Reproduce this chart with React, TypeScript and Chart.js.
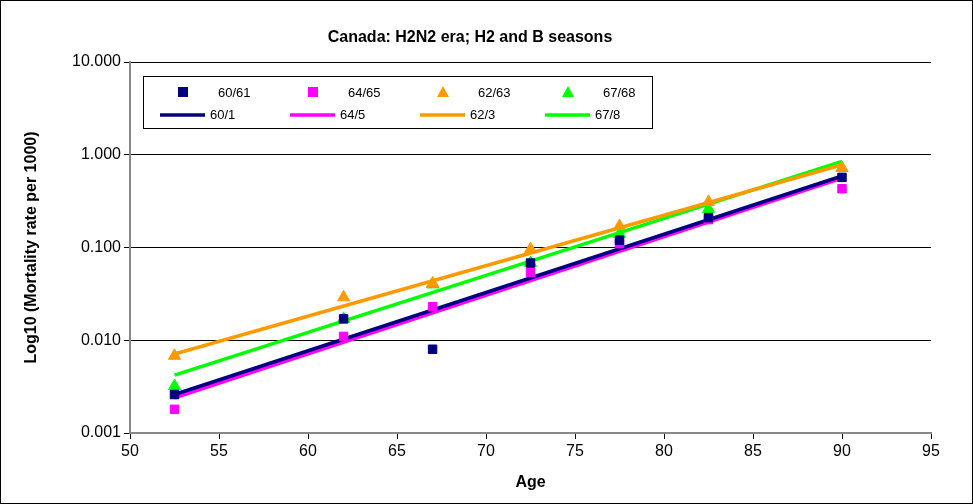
import React, { useEffect, useRef } from "react";
import { Chart, registerables } from "chart.js";
Chart.register(...registerables);

const ages = [52.5, 62, 67, 72.5, 77.5, 82.5, 90];
const s6061 = [0.0026, 0.017, 0.008, 0.068, 0.12, 0.21, 0.57];
const s6465 = [0.0018, 0.011, 0.023, 0.054, 0.11, 0.2, 0.43];
const s6263 = [0.0068, 0.029, 0.041, 0.096, 0.17, 0.31, 0.72];
const s6768 = [0.0032, 0.017, 0.04, 0.068, 0.14, 0.26, 0.72];
const trendX = [52.5, 90];
const t601 = [0.0026, 0.59];
const t645 = [0.0024, 0.56];
const t623 = [0.0071, 0.78];
const t678 = [0.0042, 0.85];
const yTicks = [0.001, 0.01, 0.1, 1, 10];

const pts = (xs: number[], ys: number[]) => xs.map((x, i) => ({ x, y: ys[i] }));

export default function App() {
  const ref = useRef<HTMLCanvasElement>(null);
  useEffect(() => {
    const scatter = (label: string, d: number[], c: string, style: string, r: number) => ({
      type: "scatter" as const, label, data: pts(ages, d), backgroundColor: c, borderColor: c,
      pointStyle: style, pointRadius: r, showLine: false,
    });
    const line = (label: string, d: number[], c: string) => ({
      type: "line" as const, label, data: pts(trendX, d), borderColor: c, backgroundColor: c,
      borderWidth: 3.5, pointRadius: 0, showLine: true,
    });
    const legendPlugin = {
      id: "legendBox",
      afterDraw(chart: any) {
        const ctx = chart.ctx;
        ctx.save();
        ctx.fillStyle = "#000";
        ctx.font = "bold 16px Arial, 'Liberation Sans', sans-serif";
        ctx.textAlign = "center";
        ctx.textBaseline = "middle";
        ctx.fillText("Canada: H2N2 era; H2 and B seasons", 470, 38);
        ctx.fillStyle = "#fff";
        ctx.fillRect(143, 76, 509, 52);
        ctx.strokeStyle = "#000";
        ctx.lineWidth = 1;
        ctx.strokeRect(143.5, 76.5, 509, 52);
        ctx.font = "13px Arial, 'Liberation Sans', sans-serif";
        ctx.textAlign = "left";
        const ds = chart.data.datasets;
        const cols = [150, 280, 410, 535];
        ds.forEach((d: any, i: number) => {
          const row = i < 4 ? 0 : 1;
          const col = i % 4;
          const y = row === 0 ? 93 : 115;
          const x = cols[col];
          ctx.fillStyle = d.borderColor;
          ctx.strokeStyle = d.borderColor;
          if (row === 0) {
            const cx = x + 33;
            if (d.pointStyle === "rect") ctx.fillRect(cx - 5, y - 6, 10, 10);
            else { ctx.beginPath(); ctx.moveTo(cx, y - 7); ctx.lineTo(cx + 6, y + 4); ctx.lineTo(cx - 6, y + 4); ctx.closePath(); ctx.fill(); }
            ctx.fillStyle = "#000";
            ctx.fillText(d.label, x + 68, y);
          } else {
            ctx.lineWidth = 3.5;
            ctx.beginPath(); ctx.moveTo(x + 10, y); ctx.lineTo(x + 55, y); ctx.stroke();
            ctx.fillStyle = "#000";
            ctx.fillText(d.label, x + 60, y);
          }
        });
        ctx.restore();
      },
    };
    const chart = new Chart(ref.current!, {
      type: "scatter",
      data: {
        datasets: [
          scatter("60/61", s6061, "#000080", "rect", 6),
          scatter("64/65", s6465, "#ff00ff", "rect", 6),
          scatter("62/63", s6263, "#ff9900", "triangle", 7),
          scatter("67/68", s6768, "#00ff00", "triangle", 7),
          line("60/1", t601, "#000080"),
          line("64/5", t645, "#ff00ff"),
          line("62/3", t623, "#ff9900"),
          line("67/8", t678, "#00ff00"),
        ] as any,
      },
      options: {
        animation: false,
        responsive: false,
        layout: { padding: { top: 62, right: 42, left: 22, bottom: 12 } },
        plugins: { legend: { display: false }, tooltip: { enabled: false } },
        scales: {
          x: {
            type: "linear", min: 50, max: 95,
            afterFit: (s: any) => { s.height = 59; },
            ticks: { stepSize: 5, color: "#000", font: { size: 16, family: "Arial, 'Liberation Sans'" } },
            grid: { display: true, drawOnChartArea: false, color: "#000", tickLength: 6 },
            border: { color: "#888", width: 2 },
            title: { display: true, text: "Age", color: "#000", font: { size: 16, weight: "bold", family: "Arial, 'Liberation Sans'" }, padding: 0 },
          },
          y: {
            type: "logarithmic", min: 0.001, max: 10,
            afterFit: (s: any) => { s.width = 108; },
            afterBuildTicks: (s: any) => { s.ticks = yTicks.map((v) => ({ value: v })); },
            ticks: { color: "#000", font: { size: 16, family: "Arial, 'Liberation Sans'" }, callback: (v: any) => Number(v).toFixed(3) },
            grid: { color: "#000", tickLength: 6 },
            border: { color: "#888", width: 2 },
            title: { display: true, text: "Log10 (Mortality rate per 1000)", color: "#000", font: { size: 16, weight: "bold", family: "Arial, 'Liberation Sans'" }, padding: 0 },
          },
        },
      } as any,
      plugins: [legendPlugin],
    });
    return () => chart.destroy();
  }, []);
  return (
    <div style={{ position: "fixed", left: 0, top: 0, width: 973, height: 504, background: "#fff" }}>
      <canvas ref={ref} width={973} height={504} style={{ display: "block" }} />
      <div style={{ position: "absolute", inset: 0, border: "1px solid #000", pointerEvents: "none" }} />
    </div>
  );
}
